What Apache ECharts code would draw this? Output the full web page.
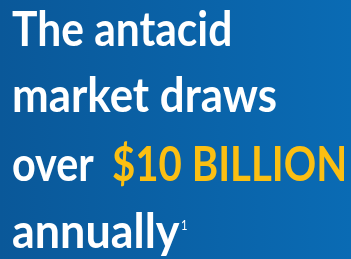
<!DOCTYPE html>
<html>
<head>
<meta charset="utf-8">
<script src="https://cdn.jsdelivr.net/npm/echarts@6/dist/echarts.min.js"></script>
<style>
  html, body { margin: 0; padding: 0; }
  #main { width: 351px; height: 259px; }
</style>
</head>
<body>
<div id="main"></div>
<script>
// text lines of the headline
var lines = ['The antacid', 'market draws', 'over', 'annually'];
var highlight = '$10 BILLION';
var footnote = '1';

var WHITE = '#ffffff';
var YELLOW = '#fbbf12';
var FONT = 'bold 47px Lato, "Open Sans", sans-serif';

var chart = echarts.init(document.getElementById('main'));

function line(txt, x, y, sx, color) {
    return {
        type: 'text', x: x, y: y, scaleX: sx,
        style: { text: txt, font: FONT, fill: color }
    };
}

var option = {
    backgroundColor: new echarts.graphic.LinearGradient(0, 0, 1, 0, [
        { offset: 0, color: '#0a5899' },
        { offset: 1, color: '#0a6bb4' }
    ]),
    graphic: [
        line(lines[0], 12, 7, 0.905, WHITE),
        line(lines[1], 12, 73, 0.933, WHITE),
        line(lines[2], 12, 142, 0.88, WHITE),
        line(highlight, 112, 142, 0.855, YELLOW),
        line(lines[3], 12, 209, 0.955, WHITE),
        {
            type: 'text', x: 181, y: 218, z: 10, scaleX: 0.8,
            style: { text: footnote, font: 'normal 14px Lato, sans-serif', fill: WHITE }
        }
    ]
};

chart.setOption(option);
</script>
</body>
</html>
